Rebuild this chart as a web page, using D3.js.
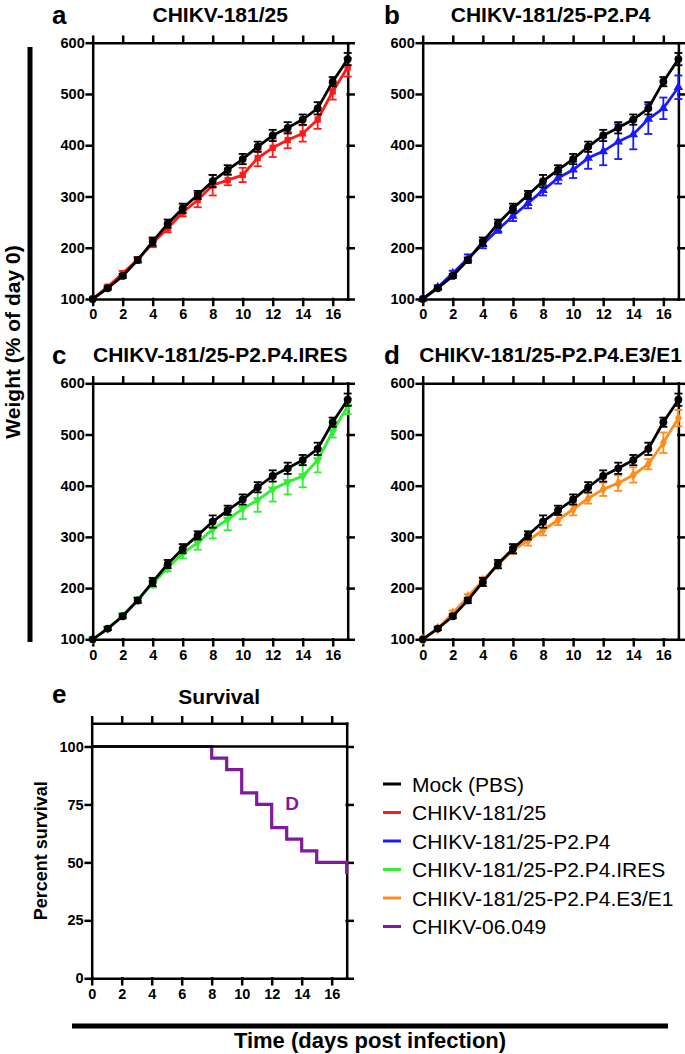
<!doctype html>
<html>
<head>
<meta charset="utf-8">
<style>
  body { margin: 0; background: #fff; }
  text { font-family: "Liberation Sans", Arial, sans-serif; }
  .axis path, .axis line { stroke: #000; stroke-width: 2.5; stroke-linecap: square; }
  .axis text { font-size: 14.5px; font-weight: bold; fill: #000; }
</style>
<script src="https://cdn.jsdelivr.net/npm/d3@7"></script>
</head>
<body>
<script>
// ---- data ----
var days = [0, 1, 2, 3, 4, 5, 6, 7, 8, 9, 10, 11, 12, 13, 14, 15, 16, 17];
var dayTicks = [0, 2, 4, 6, 8, 10, 12, 14, 16];
var weightTicks = [100, 200, 300, 400, 500, 600];
var survTicks = [0, 25, 50, 75, 100];

var mockMean = [100, 121, 145, 176, 212, 247, 277, 303, 330, 352, 373, 397, 419, 434, 450, 472, 524, 568];
var mockSem  = [0, 3, 4, 5, 8, 8, 9, 8, 12, 9, 10, 10, 11, 11, 10, 12, 9, 12];

var c181Mean = [100, 124, 150, 177, 209, 238, 269, 293, 322, 332, 342, 375, 395, 410, 423, 450, 505, 552];
var c181Sem  = [0, 3, 5, 5, 8, 8, 8, 14, 20, 10, 14, 16, 18, 16, 16, 18, 16, 18];

var p2p4Mean = [100, 123, 150, 179, 207, 235, 262, 287, 312, 336, 352, 375, 388, 407, 421, 451, 472, 513];
var p2p4Sem  = [0, 4, 5, 8, 8, 6, 10, 10, 10, 11, 16, 21, 27, 34, 29, 29, 21, 23];

var iresMean = [100, 121, 147, 177, 209, 239, 268, 289, 315, 334, 355, 372, 393, 407, 419, 450, 506, 555];
var iresSem  = [0, 3, 4, 5, 8, 6, 10, 14, 18, 21, 20, 23, 24, 24, 22, 24, 12, 15];

var e3e1Mean = [100, 121, 151, 183, 215, 245, 274, 293, 313, 333, 354, 375, 393, 405, 421, 442, 484, 532];
var e3e1Sem  = [0, 3, 5, 5, 6, 7, 7, 10, 10, 10, 12, 10, 13, 15, 15, 10, 20, 16];

var survDays = [0, 8, 9, 10, 11, 12, 13, 14, 15, 17];
var survPct  = [100, 95, 90, 80, 75, 65, 60, 55, 50, 45];
var mockSurvDays = [0, 17];
var mockSurvPct  = [100, 100];

var legendLabels = ["Mock (PBS)", "CHIKV-181/25", "CHIKV-181/25-P2.P4", "CHIKV-181/25-P2.P4.IRES", "CHIKV-181/25-P2.P4.E3/E1", "CHIKV-06.049"];
var legendColors = ["#000000", "#ff1a1a", "#1a1aff", "#33ee33", "#ff8c1a", "#7f1a9f"];

// ---- layout ----
var svg = d3.select("body").append("svg").attr("width", 685).attr("height", 1054);

var panels = [
  {letter: "a", title: "CHIKV-181/25", mean: c181Mean, sem: c181Sem, color: legendColors[1], sym: d3.symbolSquare, rot: 0,
   x0: 92.7, x1: 347.7, yTop: 42.7, yBot: 299, lx: 52},
  {letter: "b", title: "CHIKV-181/25-P2.P4", mean: p2p4Mean, sem: p2p4Sem, color: legendColors[2], sym: d3.symbolTriangle, rot: 0,
   x0: 422.7, x1: 678.4, yTop: 42.7, yBot: 299, lx: 384},
  {letter: "c", title: "CHIKV-181/25-P2.P4.IRES", mean: iresMean, sem: iresSem, color: legendColors[3], sym: d3.symbolTriangle, rot: 180,
   x0: 92.7, x1: 347.7, yTop: 383.3, yBot: 639.3, lx: 52},
  {letter: "d", title: "CHIKV-181/25-P2.P4.E3/E1", mean: e3e1Mean, sem: e3e1Sem, color: legendColors[4], sym: d3.symbolDiamond, rot: 0,
   x0: 422.7, x1: 678.4, yTop: 383.3, yBot: 639.3, lx: 384}
];

function boxAxes(g, x, y, yTicks, xr, yr) {
  g.append("g").attr("class", "axis").attr("transform", "translate(0," + yr[0] + ")")
    .call(d3.axisBottom(x).tickValues(dayTicks).tickSize(6).tickSizeOuter(0).tickPadding(4));
  g.append("g").attr("class", "axis").attr("transform", "translate(0," + yr[1] + ")")
    .call(d3.axisTop(x).tickValues(dayTicks).tickSize(6).tickSizeOuter(0).tickFormat(""));
  g.append("g").attr("class", "axis").attr("transform", "translate(" + xr[0] + ",0)")
    .call(d3.axisLeft(y).tickValues(yTicks).tickSize(6).tickSizeOuter(0).tickPadding(2));
  g.append("g").attr("class", "axis").attr("transform", "translate(" + xr[1] + ",0)")
    .call(d3.axisRight(y).tickValues(yTicks).tickSize(6).tickSizeOuter(0).tickFormat(""));
}

function drawSeries(g, x, y, mean, sem, color, sym, rot, symSize) {
  var pts = days.map(function(d, i) { return {day: d, v: mean[i], s: sem[i]}; });
  g.append("path")
    .datum(pts)
    .attr("fill", "none")
    .attr("stroke", color)
    .attr("stroke-width", 2.8)
    .attr("d", d3.line().x(function(d) { return x(d.day); }).y(function(d) { return y(d.v); }));

  var eb = g.append("g").attr("stroke", color).attr("stroke-width", 1.8);
  pts.filter(function(d) { return d.s > 0; }).forEach(function(d) {
    var cx = x(d.day);
    eb.append("line").attr("x1", cx).attr("x2", cx).attr("y1", y(d.v - d.s)).attr("y2", y(d.v + d.s));
    eb.append("line").attr("x1", cx - 4).attr("x2", cx + 4).attr("y1", y(d.v - d.s)).attr("y2", y(d.v - d.s));
    eb.append("line").attr("x1", cx - 4).attr("x2", cx + 4).attr("y1", y(d.v + d.s)).attr("y2", y(d.v + d.s));
  });

  g.append("g").selectAll("path")
    .data(pts)
    .enter().append("path")
    .attr("transform", function(d) { return "translate(" + x(d.day) + "," + y(d.v) + ") rotate(" + rot + ")"; })
    .attr("d", d3.symbol().type(sym).size(symSize))
    .attr("fill", color);
}

panels.forEach(function(p) {
  var x = d3.scaleLinear().domain([0, 17]).range([p.x0, p.x1]);
  var y = d3.scaleLinear().domain([100, 600]).range([p.yBot, p.yTop]);
  var g = svg.append("g");

  boxAxes(g, x, y, weightTicks, [p.x0, p.x1], [p.yBot, p.yTop]);

  drawSeries(g, x, y, p.mean, p.sem, p.color, p.sym, p.rot, 40);
  drawSeries(g, x, y, mockMean, mockSem, "#000", d3.symbolCircle, 0, 48);

  g.append("text")
    .attr("x", (p.x0 + p.x1) / 2)
    .attr("y", p.yTop - 21)
    .attr("text-anchor", "middle")
    .attr("font-size", "21px")
    .attr("font-weight", "bold")
    .text(p.title);

  g.append("text")
    .attr("x", p.lx)
    .attr("y", p.yTop - 19)
    .attr("font-size", "26px")
    .attr("font-weight", "bold")
    .text(p.letter);
});

// ---- survival panel ----
(function() {
  var x0 = 91.7, x1 = 346.7, yTop = 723.3, yBot = 978.3;
  var x = d3.scaleLinear().domain([0, 17]).range([x0, x1]);
  var y = d3.scaleLinear().domain([0, 110]).range([yBot, yTop]);
  var g = svg.append("g");

  boxAxes(g, x, y, survTicks, [x0, x1], [yBot, yTop]);

  var step = d3.line().curve(d3.curveStepAfter)
    .x(function(d) { return x(d[0]); }).y(function(d) { return y(d[1]); });

  g.append("path")
    .datum(survDays.map(function(d, i) { return [d, survPct[i]]; }))
    .attr("fill", "none").attr("stroke", legendColors[5]).attr("stroke-width", 3.2)
    .attr("d", step);

  g.append("path")
    .datum(mockSurvDays.map(function(d, i) { return [d, mockSurvPct[i]]; }))
    .attr("fill", "none").attr("stroke", "#000").attr("stroke-width", 2.5)
    .attr("d", step);

  g.append("text").attr("x", x(12.9)).attr("y", y(72.5))
    .attr("font-size", "19px").attr("font-weight", "bold").attr("fill", legendColors[5]).text("D");

  g.append("text").attr("x", (x0 + x1) / 2).attr("y", yTop - 19)
    .attr("text-anchor", "middle").attr("font-size", "21px").attr("font-weight", "bold").text("Survival");

  g.append("text").attr("x", 52).attr("y", yTop - 20)
    .attr("font-size", "26px").attr("font-weight", "bold").text("e");

  g.append("text")
    .attr("transform", "translate(47," + (yTop + yBot) / 2 + ") rotate(-90)")
    .attr("text-anchor", "middle").attr("font-size", "18px").attr("font-weight", "bold")
    .text("Percent survival");
})();

// ---- shared axis titles ----
svg.append("line").attr("x1", 30).attr("x2", 30).attr("y1", 47).attr("y2", 642)
  .attr("stroke", "#000").attr("stroke-width", 5);
svg.append("text")
  .attr("transform", "translate(20,342) rotate(-90)")
  .attr("text-anchor", "middle").attr("font-size", "21px").attr("font-weight", "bold")
  .text("Weight (% of day 0)");

svg.append("line").attr("x1", 72).attr("x2", 668).attr("y1", 1026).attr("y2", 1026)
  .attr("stroke", "#000").attr("stroke-width", 5);
svg.append("text")
  .attr("x", 370).attr("y", 1048)
  .attr("text-anchor", "middle").attr("font-size", "22px").attr("font-weight", "bold")
  .text("Time (days post infection)");

// ---- legend ----
var leg = svg.append("g").selectAll("g")
  .data(legendLabels)
  .enter().append("g")
  .attr("transform", function(d, i) { return "translate(383," + (784 + i * 28.5) + ")"; });
leg.append("line").attr("x1", 0).attr("x2", 18).attr("y1", 0).attr("y2", 0)
  .attr("stroke", function(d, i) { return legendColors[i]; }).attr("stroke-width", 3);
leg.append("text").attr("x", 29).attr("y", 7.5)
  .attr("font-size", "21px").text(function(d) { return d; });
</script>
</body>
</html>
